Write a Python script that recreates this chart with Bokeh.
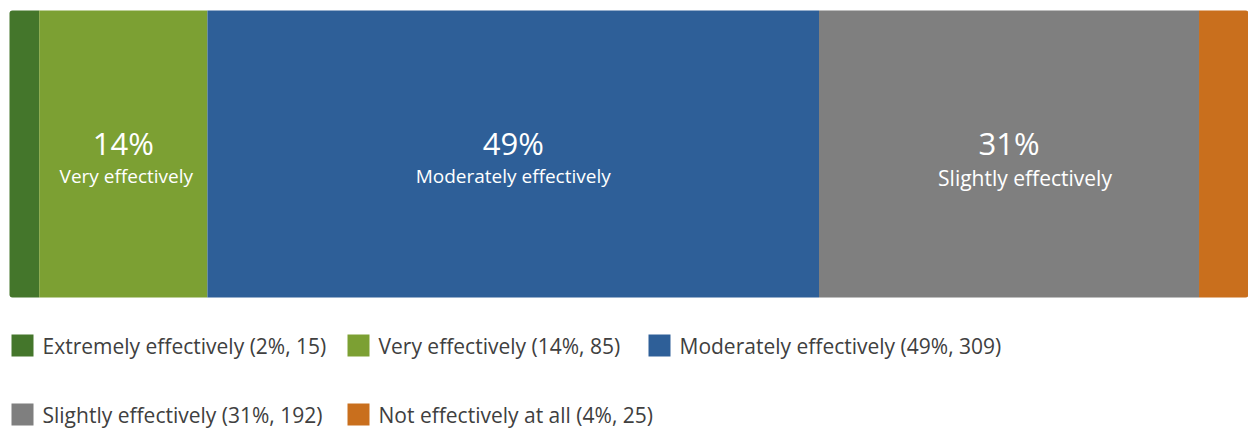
from bokeh.plotting import figure
from bokeh.models import Range1d, ColumnDataSource
from bokeh.core.properties import value
from bokeh.embed import file_html
from bokeh.resources import INLINE

# Survey responses: how effectively ...
categories = ["Extremely effectively", "Very effectively", "Moderately effectively",
              "Slightly effectively", "Not effectively at all"]
counts = [15, 85, 309, 192, 25]
colors = ["#44762B", "#7CA033", "#2E5F98", "#7F7F7F", "#C96F1D"]
# segments wide enough to carry an in-bar label
show_label = [False, True, True, True, False]

W, H = 1248, 428
FONT = "Open Sans"

total = sum(counts)
pcts = [round(c / total * 100) for c in counts]
lefts = [sum(counts[:i]) for i in range(len(counts))]
rights = [l + c for l, c in zip(lefts, counts)]

# bar occupies pixels 9..1248 horizontally, 10..297 vertically
bar_px_left, bar_px_right = 9, 1248
units_per_px = total / (bar_px_right - bar_px_left)
x_range = Range1d(-bar_px_left * units_per_px, total + (W - bar_px_right) * units_per_px)

p = figure(width=W, height=H, x_range=x_range, y_range=Range1d(H, 0),
           x_axis_type=None, y_axis_type=None, toolbar_location=None,
           output_backend="svg", min_border=0, outline_line_color=None,
           background_fill_color="white", border_fill_color="white")
p.grid.visible = False
p.extra_x_ranges = {"px": Range1d(0, W)}

bar_y, bar_h = 153.5, 287

# stacked bar: inner segments square, outer ends slightly rounded
n = len(counts)
for i in range(n):
    radius = 0
    if i == 0:
        radius = (3, 0, 0, 3)
    elif i == n - 1:
        radius = (0, 3, 3, 0)
    p.hbar(y=bar_y, left=lefts[i], right=rights[i], height=bar_h,
           fill_color=colors[i], line_color=None, border_radius=radius)

# in-bar labels: percentage and category name
lab_idx = [i for i in range(n) if show_label[i]]
# per-label styling of the category line (the last one is set a bit wider)
name_size = {1: "19px", 2: "19px", 3: "21px"}
name_shift = {1: 3, 2: 0, 3: 16}
name_drop = {1: 0, 2: 0, 3: 2}
lab_src = ColumnDataSource(dict(
    x=[(lefts[i] + rights[i]) / 2 for i in lab_idx],
    pct=[f"{pcts[i]}%" for i in lab_idx],
    name=[categories[i] for i in lab_idx],
    nsize=[name_size[i] for i in lab_idx],
    nshift=[name_shift[i] for i in lab_idx],
    ndrop=[name_drop[i] for i in lab_idx],
))
p.text(x="x", y=142, text="pct", source=lab_src, text_font=value(FONT),
       text_font_size=value("31px"), text_color="white",
       text_align="center", text_baseline="middle")
p.text(x="x", y=175, text="name", source=lab_src, text_font=value(FONT),
       text_font_size="nsize", x_offset="nshift", y_offset="ndrop",
       text_color="white", text_align="center", text_baseline="middle")

# legend laid out in two rows below the bar
leg_x = [11, 347, 648, 11, 347]
leg_y = [345, 345, 345, 414, 414]
sq = 22
leg_src = ColumnDataSource(dict(
    sx=[x + sq / 2 for x in leg_x],
    tx=[x + sq + 9 for x in leg_x],
    y=leg_y,
    color=colors,
    label=[f"{c} ({pc}%, {v})" for c, pc, v in zip(categories, pcts, counts)],
))
p.rect(x="sx", y="y", width=sq, height=sq, source=leg_src, fill_color="color",
       line_color=None, x_range_name="px")
p.text(x="tx", y="y", text="label", source=leg_src, x_range_name="px",
       text_font=value(FONT), text_font_size=value("21px"), text_color="#404040",
       text_align="left", text_baseline="middle")

open("out.html", "w").write(file_html(p, INLINE))
